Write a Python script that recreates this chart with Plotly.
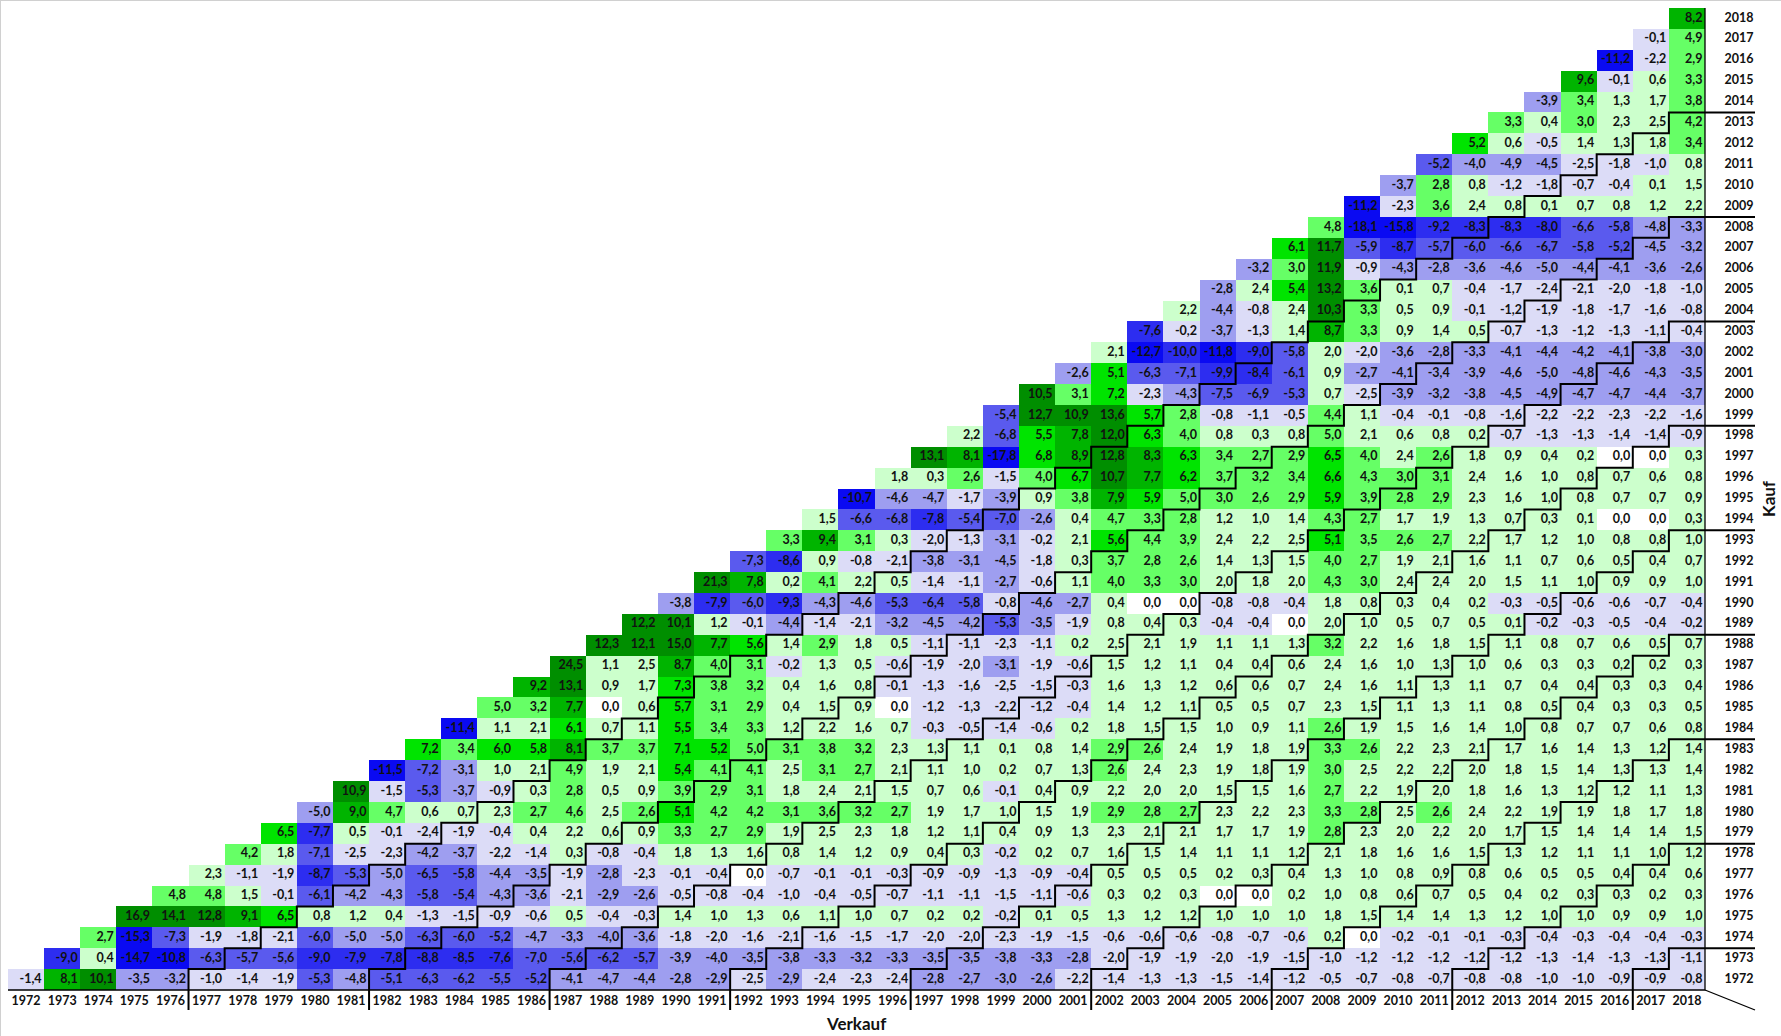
import plotly.graph_objects as go

JAHRE = list(range(1972, 2019))

# Rendite p.a. in % je Kaufjahr, Verkaufsjahre vom Kaufjahr bis 2018
k1972 = [-1.4, 8.1, 10.1, -3.5, -3.2, -1.0, -1.4, -1.9, -5.3, -4.8, -5.1, -6.3, -6.2, -5.5, -5.2, -4.1, -4.7, -4.4, -2.8, -2.9, -2.5, -2.9, -2.4, -2.3, -2.4, -2.8, -2.7, -3.0, -2.6, -2.2, -1.4, -1.3, -1.3, -1.5, -1.4, -1.2, -0.5, -0.7, -0.8, -0.7, -0.8, -0.8, -1.0, -1.0, -0.9, -0.9, -0.8]
k1973 = [-9.0, 0.4, -14.7, -10.8, -6.3, -5.7, -5.6, -9.0, -7.9, -7.8, -8.8, -8.5, -7.6, -7.0, -5.6, -6.2, -5.7, -3.9, -4.0, -3.5, -3.8, -3.3, -3.2, -3.3, -3.5, -3.5, -3.8, -3.3, -2.8, -2.0, -1.9, -1.9, -2.0, -1.9, -1.5, -1.0, -1.2, -1.2, -1.2, -1.2, -1.2, -1.3, -1.4, -1.3, -1.3, -1.1]
k1974 = [2.7, -15.3, -7.3, -1.9, -1.8, -2.1, -6.0, -5.0, -5.0, -6.3, -6.0, -5.2, -4.7, -3.3, -4.0, -3.6, -1.8, -2.0, -1.6, -2.1, -1.6, -1.5, -1.7, -2.0, -2.0, -2.3, -1.9, -1.5, -0.6, -0.6, -0.6, -0.8, -0.7, -0.6, 0.2, 0.0, -0.2, -0.1, -0.1, -0.3, -0.4, -0.3, -0.4, -0.4, -0.3]
k1975 = [16.9, 14.1, 12.8, 9.1, 6.5, 0.8, 1.2, 0.4, -1.3, -1.5, -0.9, -0.6, 0.5, -0.4, -0.3, 1.4, 1.0, 1.3, 0.6, 1.1, 1.0, 0.7, 0.2, 0.2, -0.2, 0.1, 0.5, 1.3, 1.2, 1.2, 1.0, 1.0, 1.0, 1.8, 1.5, 1.4, 1.4, 1.3, 1.2, 1.0, 1.0, 0.9, 0.9, 1.0]
k1976 = [4.8, 4.8, 1.5, -0.1, -6.1, -4.2, -4.3, -5.8, -5.4, -4.3, -3.6, -2.1, -2.9, -2.6, -0.5, -0.8, -0.4, -1.0, -0.4, -0.5, -0.7, -1.1, -1.1, -1.5, -1.1, -0.6, 0.3, 0.2, 0.3, 0.0, 0.0, 0.2, 1.0, 0.8, 0.6, 0.7, 0.5, 0.4, 0.2, 0.3, 0.3, 0.2, 0.3]
k1977 = [2.3, -1.1, -1.9, -8.7, -5.3, -5.0, -6.5, -5.8, -4.4, -3.5, -1.9, -2.8, -2.3, -0.1, -0.4, 0.0, -0.7, -0.1, -0.1, -0.3, -0.9, -0.9, -1.3, -0.9, -0.4, 0.5, 0.5, 0.5, 0.2, 0.3, 0.4, 1.3, 1.0, 0.8, 0.9, 0.8, 0.6, 0.5, 0.5, 0.4, 0.4, 0.6]
k1978 = [4.2, 1.8, -7.1, -2.5, -2.3, -4.2, -3.7, -2.2, -1.4, 0.3, -0.8, -0.4, 1.8, 1.3, 1.6, 0.8, 1.4, 1.2, 0.9, 0.4, 0.3, -0.2, 0.2, 0.7, 1.6, 1.5, 1.4, 1.1, 1.1, 1.2, 2.1, 1.8, 1.6, 1.6, 1.5, 1.3, 1.2, 1.1, 1.1, 1.0, 1.2]
k1979 = [6.5, -7.7, 0.5, -0.1, -2.4, -1.9, -0.4, 0.4, 2.2, 0.6, 0.9, 3.3, 2.7, 2.9, 1.9, 2.5, 2.3, 1.8, 1.2, 1.1, 0.4, 0.9, 1.3, 2.3, 2.1, 2.1, 1.7, 1.7, 1.9, 2.8, 2.3, 2.0, 2.2, 2.0, 1.7, 1.5, 1.4, 1.4, 1.4, 1.5]
k1980 = [-5.0, 9.0, 4.7, 0.6, 0.7, 2.3, 2.7, 4.6, 2.5, 2.6, 5.1, 4.2, 4.2, 3.1, 3.6, 3.2, 2.7, 1.9, 1.7, 1.0, 1.5, 1.9, 2.9, 2.8, 2.7, 2.3, 2.2, 2.3, 3.3, 2.8, 2.5, 2.6, 2.4, 2.2, 1.9, 1.9, 1.8, 1.7, 1.8]
k1981 = [10.9, -1.5, -5.3, -3.7, -0.9, 0.3, 2.8, 0.5, 0.9, 3.9, 2.9, 3.1, 1.8, 2.4, 2.1, 1.5, 0.7, 0.6, -0.1, 0.4, 0.9, 2.2, 2.0, 2.0, 1.5, 1.5, 1.6, 2.7, 2.2, 1.9, 2.0, 1.8, 1.6, 1.3, 1.2, 1.2, 1.1, 1.3]
k1982 = [-11.5, -7.2, -3.1, 1.0, 2.1, 4.9, 1.9, 2.1, 5.4, 4.1, 4.1, 2.5, 3.1, 2.7, 2.1, 1.1, 1.0, 0.2, 0.7, 1.3, 2.6, 2.4, 2.3, 1.9, 1.8, 1.9, 3.0, 2.5, 2.2, 2.2, 2.0, 1.8, 1.5, 1.4, 1.3, 1.3, 1.4]
k1983 = [7.2, 3.4, 6.0, 5.8, 8.1, 3.7, 3.7, 7.1, 5.2, 5.0, 3.1, 3.8, 3.2, 2.3, 1.3, 1.1, 0.1, 0.8, 1.4, 2.9, 2.6, 2.4, 1.9, 1.8, 1.9, 3.3, 2.6, 2.2, 2.3, 2.1, 1.7, 1.6, 1.4, 1.3, 1.2, 1.4]
k1984 = [-11.4, 1.1, 2.1, 6.1, 0.7, 1.1, 5.5, 3.4, 3.3, 1.2, 2.2, 1.6, 0.7, -0.3, -0.5, -1.4, -0.6, 0.2, 1.8, 1.5, 1.5, 1.0, 0.9, 1.1, 2.6, 1.9, 1.5, 1.6, 1.4, 1.0, 0.8, 0.7, 0.7, 0.6, 0.8]
k1985 = [5.0, 3.2, 7.7, 0.0, 0.6, 5.7, 3.1, 2.9, 0.4, 1.5, 0.9, 0.0, -1.2, -1.3, -2.2, -1.2, -0.4, 1.4, 1.2, 1.1, 0.5, 0.5, 0.7, 2.3, 1.5, 1.1, 1.3, 1.1, 0.8, 0.5, 0.4, 0.3, 0.3, 0.5]
k1986 = [9.2, 13.1, 0.9, 1.7, 7.3, 3.8, 3.2, 0.4, 1.6, 0.8, -0.1, -1.3, -1.6, -2.5, -1.5, -0.3, 1.6, 1.3, 1.2, 0.6, 0.6, 0.7, 2.4, 1.6, 1.1, 1.3, 1.1, 0.7, 0.4, 0.4, 0.3, 0.3, 0.4]
k1987 = [24.5, 1.1, 2.5, 8.7, 4.0, 3.1, -0.2, 1.3, 0.5, -0.6, -1.9, -2.0, -3.1, -1.9, -0.6, 1.5, 1.2, 1.1, 0.4, 0.4, 0.6, 2.4, 1.6, 1.0, 1.3, 1.0, 0.6, 0.3, 0.3, 0.2, 0.2, 0.3]
k1988 = [12.3, 12.1, 15.0, 7.7, 5.6, 1.4, 2.9, 1.8, 0.5, -1.1, -1.1, -2.3, -1.1, 0.2, 2.5, 2.1, 1.9, 1.1, 1.1, 1.3, 3.2, 2.2, 1.6, 1.8, 1.5, 1.1, 0.8, 0.7, 0.6, 0.5, 0.7]
k1989 = [12.2, 10.1, 1.2, -0.1, -4.4, -1.4, -2.1, -3.2, -4.5, -4.2, -5.3, -3.5, -1.9, 0.8, 0.4, 0.3, -0.4, -0.4, 0.0, 2.0, 1.0, 0.5, 0.7, 0.5, 0.1, -0.2, -0.3, -0.5, -0.4, -0.2]
k1990 = [-3.8, -7.9, -6.0, -9.3, -4.3, -4.6, -5.3, -6.4, -5.8, -0.8, -4.6, -2.7, 0.4, 0.0, 0.0, -0.8, -0.8, -0.4, 1.8, 0.8, 0.3, 0.4, 0.2, -0.3, -0.5, -0.6, -0.6, -0.7, -0.4]
k1991 = [21.3, 7.8, 0.2, 4.1, 2.2, 0.5, -1.4, -1.1, -2.7, -0.6, 1.1, 4.0, 3.3, 3.0, 2.0, 1.8, 2.0, 4.3, 3.0, 2.4, 2.4, 2.0, 1.5, 1.1, 1.0, 0.9, 0.9, 1.0]
k1992 = [-7.3, -8.6, 0.9, -0.8, -2.1, -3.8, -3.1, -4.5, -1.8, 0.3, 3.7, 2.8, 2.6, 1.4, 1.3, 1.5, 4.0, 2.7, 1.9, 2.1, 1.6, 1.1, 0.7, 0.6, 0.5, 0.4, 0.7]
k1993 = [3.3, 9.4, 3.1, 0.3, -2.0, -1.3, -3.1, -0.2, 2.1, 5.6, 4.4, 3.9, 2.4, 2.2, 2.5, 5.1, 3.5, 2.6, 2.7, 2.2, 1.7, 1.2, 1.0, 0.8, 0.8, 1.0]
k1994 = [1.5, -6.6, -6.8, -7.8, -5.4, -7.0, -2.6, 0.4, 4.7, 3.3, 2.8, 1.2, 1.0, 1.4, 4.3, 2.7, 1.7, 1.9, 1.3, 0.7, 0.3, 0.1, 0.0, 0.0, 0.3]
k1995 = [-10.7, -4.6, -4.7, -1.7, -3.9, 0.9, 3.8, 7.9, 5.9, 5.0, 3.0, 2.6, 2.9, 5.9, 3.9, 2.8, 2.9, 2.3, 1.6, 1.0, 0.8, 0.7, 0.7, 0.9]
k1996 = [1.8, 0.3, 2.6, -1.5, 4.0, 6.7, 10.7, 7.7, 6.2, 3.7, 3.2, 3.4, 6.6, 4.3, 3.0, 3.1, 2.4, 1.6, 1.0, 0.8, 0.7, 0.6, 0.8]
k1997 = [13.1, 8.1, -17.8, 6.8, 8.9, 12.8, 8.3, 6.3, 3.4, 2.7, 2.9, 6.5, 4.0, 2.4, 2.6, 1.8, 0.9, 0.4, 0.2, 0.0, 0.0, 0.3]
k1998 = [2.2, -6.8, 5.5, 7.8, 12.0, 6.3, 4.0, 0.8, 0.3, 0.8, 5.0, 2.1, 0.6, 0.8, 0.2, -0.7, -1.3, -1.3, -1.4, -1.4, -0.9]
k1999 = [-5.4, 12.7, 10.9, 13.6, 5.7, 2.8, -0.8, -1.1, -0.5, 4.4, 1.1, -0.4, -0.1, -0.8, -1.6, -2.2, -2.2, -2.3, -2.2, -1.6]
k2000 = [10.5, 3.1, 7.2, -2.3, -4.3, -7.5, -6.9, -5.3, 0.7, -2.5, -3.9, -3.2, -3.8, -4.5, -4.9, -4.7, -4.7, -4.4, -3.7]
k2001 = [-2.6, 5.1, -6.3, -7.1, -9.9, -8.4, -6.1, 0.9, -2.7, -4.1, -3.4, -3.9, -4.6, -5.0, -4.8, -4.6, -4.3, -3.5]
k2002 = [2.1, -12.7, -10.0, -11.8, -9.0, -5.8, 2.0, -2.0, -3.6, -2.8, -3.3, -4.1, -4.4, -4.2, -4.1, -3.8, -3.0]
k2003 = [-7.6, -0.2, -3.7, -1.3, 1.4, 8.7, 3.3, 0.9, 1.4, 0.5, -0.7, -1.3, -1.2, -1.3, -1.1, -0.4]
k2004 = [2.2, -4.4, -0.8, 2.4, 10.3, 3.3, 0.5, 0.9, -0.1, -1.2, -1.9, -1.8, -1.7, -1.6, -0.8]
k2005 = [-2.8, 2.4, 5.4, 13.2, 3.6, 0.1, 0.7, -0.4, -1.7, -2.4, -2.1, -2.0, -1.8, -1.0]
k2006 = [-3.2, 3.0, 11.9, -0.9, -4.3, -2.8, -3.6, -4.6, -5.0, -4.4, -4.1, -3.6, -2.6]
k2007 = [6.1, 11.7, -5.9, -8.7, -5.7, -6.0, -6.6, -6.7, -5.8, -5.2, -4.5, -3.2]
k2008 = [4.8, -18.1, -15.8, -9.2, -8.3, -8.3, -8.0, -6.6, -5.8, -4.8, -3.3]
k2009 = [-11.2, -2.3, 3.6, 2.4, 0.8, 0.1, 0.7, 0.8, 1.2, 2.2]
k2010 = [-3.7, 2.8, 0.8, -1.2, -1.8, -0.7, -0.4, 0.1, 1.5]
k2011 = [-5.2, -4.0, -4.9, -4.5, -2.5, -1.8, -1.0, 0.8]
k2012 = [5.2, 0.6, -0.5, 1.4, 1.3, 1.8, 3.4]
k2013 = [3.3, 0.4, 3.0, 2.3, 2.5, 4.2]
k2014 = [-3.9, 3.4, 1.3, 1.7, 3.8]
k2015 = [9.6, -0.1, 0.6, 3.3]
k2016 = [-11.2, -2.2, 2.9]
k2017 = [-0.1, 4.9]
k2018 = [8.2]

ZEILEN = [k1972, k1973, k1974, k1975, k1976, k1977, k1978, k1979, k1980, k1981,
          k1982, k1983, k1984, k1985, k1986, k1987, k1988, k1989, k1990, k1991,
          k1992, k1993, k1994, k1995, k1996, k1997, k1998, k1999, k2000, k2001,
          k2002, k2003, k2004, k2005, k2006, k2007, k2008, k2009, k2010, k2011,
          k2012, k2013, k2014, k2015, k2016, k2017, k2018]

# Haltedauer-Treppen alle 5 Jahre
TREPPEN = [5, 10, 15, 20, 25, 30, 35, 40, 45]

# Farbstufen (Excel-artig)
GRENZEN = [-10.0, -7.55, -5.05, -2.55, -0.05, 0.05, 2.55, 5.05, 7.55, 10.0]
FARBEN = ['#0A0AF2', '#2D2DF0', '#5A5AEE', '#9E9EF0', '#DCDCF7', '#FFFFFF',
          '#CCFFCC', '#66FF66', '#00E400', '#00B400', '#008E00']
ZMIN, ZMAX = -20.0, 25.0

FONT = 'Lato'
FS = 12.5

# Pixel-Geometrie des Rasters
PX_L, PX_R, PX_T, PX_B = 8, 1705, 8, 990
W, H = 1781, 1036
CW = (PX_R - PX_L) / 47
RH = (PX_B - PX_T) / 47


def px_x(px):
    return 1971.5 + (px - PX_L) / CW


def px_y(py):
    return 1971.5 + (PX_B - py) / RH


def stufen_skala():
    skala = []
    pos = [0.0] + [(g - ZMIN) / (ZMAX - ZMIN) for g in GRENZEN] + [1.0]
    for i, farbe in enumerate(FARBEN):
        skala.append([pos[i], farbe])
        skala.append([pos[i + 1], farbe])
    return skala


def fmt(v):
    return f'{v:.1f}'.replace('.', ',')


z = []
for i, kauf in enumerate(JAHRE):
    zeile = [None] * len(JAHRE)
    for j, wert in enumerate(ZEILEN[i]):
        zeile[i + j] = wert
    z.append(zeile)

tx, ty, tt = [], [], []
pad = 2.5 / CW
for i, kauf in enumerate(JAHRE):
    for j, wert in enumerate(ZEILEN[i]):
        tx.append(kauf + j + 0.5 - pad)
        ty.append(kauf)
        tt.append(fmt(wert))

fig = go.Figure()
fig.add_trace(go.Heatmap(z=z, x=JAHRE, y=JAHRE, colorscale=stufen_skala(), zmin=ZMIN, zmax=ZMAX,
                         showscale=False, hoverongaps=False, hoverinfo='skip'))
fig.add_trace(go.Scatter(x=tx, y=ty, text=tt, mode='text', textposition='middle left',
                         textfont=dict(family=FONT, size=FS, color='#111111', weight='bold'),
                         hoverinfo='skip', cliponaxis=False))

# Achsenbeschriftungen
y_lab = px_y(1002)
x_lab = px_x(1739)
fig.add_trace(go.Scatter(x=JAHRE, y=[y_lab] * len(JAHRE), text=[str(j) for j in JAHRE], mode='text',
                         textposition='middle center', hoverinfo='skip', cliponaxis=False,
                         textfont=dict(family=FONT, size=FS, color='#111111', weight='bold')))
fig.add_trace(go.Scatter(x=[x_lab] * len(JAHRE), y=JAHRE, text=[str(j) for j in JAHRE], mode='text',
                         textposition='middle center', hoverinfo='skip', cliponaxis=False,
                         textfont=dict(family=FONT, size=FS, color='#111111', weight='bold')))

# Treppenlinien
y_ext = px_y(1010)
x_ext = px_x(1755)
lx, ly = [], []
for h in TREPPEN:
    lx += [1971.5 + h]
    ly += [y_ext]
    for k in range(1972, 2019 - h):
        lx += [k + h - 0.5, k + h + 0.5]
        ly += [k + 0.5, k + 0.5]
    lx[-1] = x_ext
    lx.append(None)
    ly.append(None)
fig.add_trace(go.Scatter(x=lx, y=ly, mode='lines', line=dict(color='black', width=2),
                         hoverinfo='skip', cliponaxis=False))

# Rahmen: untere Achse, rechte Kante, Diagonale
fig.add_trace(go.Scatter(x=[1971.5, 2018.5, 2018.5, None, 2018.5, x_ext],
                         y=[1971.5, 1971.5, 2018.5, None, 1971.5, y_ext],
                         mode='lines', line=dict(color='black', width=1.3),
                         hoverinfo='skip', cliponaxis=False))

fig.add_annotation(x=1995, y=px_y(1023), text='<b>Verkauf</b>', showarrow=False,
                   font=dict(family=FONT, size=17, color='#111111'))
fig.add_annotation(x=px_x(1768), y=1995, text='<b>Kauf</b>', showarrow=False, textangle=-90,
                   font=dict(family=FONT, size=17, color='#111111'))

fig.update_layout(
    width=W, height=H,
    margin=dict(l=0, r=0, t=0, b=0),
    paper_bgcolor='white', plot_bgcolor='white',
    showlegend=False,
    xaxis=dict(range=[px_x(0), px_x(W)], visible=False, fixedrange=True),
    yaxis=dict(range=[px_y(H), px_y(0)], visible=False, fixedrange=True),
    shapes=[
        dict(type='line', xref='paper', yref='paper', x0=0, x1=0, y0=0, y1=1,
             line=dict(color='#d0d0d0', width=2)),
        dict(type='line', xref='paper', yref='paper', x0=0, x1=1, y0=1, y1=1,
             line=dict(color='#d0d0d0', width=2)),
    ],
)

fig.write_html('out.html', config={'displayModeBar': False},
               post_script="document.body.style.margin='0';")
